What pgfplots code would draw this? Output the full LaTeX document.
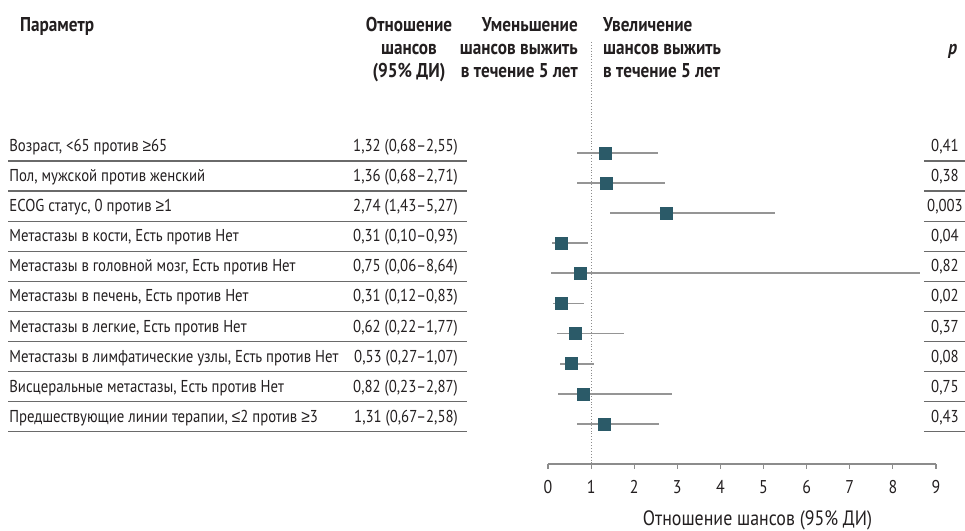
\documentclass[border=0pt]{standalone}
\usepackage{fontspec}
\setmainfont[FakeStretch=0.86]{PT Sans}
\newfontfamily\symf[FakeStretch=0.9]{Liberation Sans}
\newcommand{\GE}{{\symf ≥}}
\newcommand{\LE}{{\symf ≤}}
\usepackage{pgfplots}
\pgfplotsset{compat=1.18}
\usepackage{pgfplotstable}
\definecolor{mk}{HTML}{2B5A68}
\definecolor{ci}{HTML}{959595}
\definecolor{txt}{HTML}{231F20}
\definecolor{rl}{HTML}{6A6A6A}
\definecolor{ax}{HTML}{8C8C8C}

\pgfplotstableread{
row or lo hi
1 1.32 0.68 2.55
2 1.36 0.68 2.71
3 2.74 1.43 5.27
4 0.31 0.10 0.93
5 0.75 0.06 8.64
6 0.31 0.12 0.83
7 0.62 0.22 1.77
8 0.53 0.27 1.07
9 0.82 0.23 2.87
10 1.31 0.67 2.58
}\datatab

\newcommand{\bodyfont}{\fontsize{17.2}{20}\selectfont}
\newcommand{\headfont}{\fontsize{20}{24}\selectfont\bfseries}
\newcommand{\tabrow}[4]{%
  \node[anchor=base west, inner sep=0pt, text=txt, font=\bodyfont, yshift=1.5pt] at (axis cs:-12.50,-#1) {#2};
  \node[anchor=base east, inner sep=0pt, text=txt, font=\bodyfont, yshift=1.5pt] at (axis cs:-2.088,-#1) {#3};
  \node[anchor=base, inner sep=0pt, text=txt, font=\bodyfont, yshift=1.5pt] at (axis cs:9.209,-#1) {#4};
  \draw[rl, line width=1.2pt] ([yshift=-8pt]axis cs:-12.52,-#1) -- ([yshift=-8pt]axis cs:-1.879,-#1);
  \draw[rl, line width=1.2pt] ([yshift=-8pt]axis cs:8.722,-#1) -- ([yshift=-8pt]axis cs:9.673,-#1);
}

\begin{document}
\begin{tikzpicture}
\begin{axis}[
  scale only axis,
  width=388pt, height=422pt,
  xmin=0, xmax=9, ymin=-11.332, ymax=2.688,
  axis y line=none,
  axis x line*=bottom,
  axis line style={ax, line width=1.2pt},
  xtick={0,1,2,3,4,5,6,7,8,9},
  tick style={ax, line width=1.2pt},
  tick align=outside,
  major tick length=5pt,
  /pgf/number format/assume math mode=true,
  xticklabel style={font=\fontsize{18.5}{20}\selectfont, text=txt, yshift=-8pt},
  clip=false,
]
\draw[ax, dotted, line width=0.9pt] (axis cs:1,2.688) -- (axis cs:1,-11.332);

\addplot[only marks, mark=square*, mark size=6pt,
  mark options={fill=mk, draw=mk},
  error bars/.cd, x dir=both, x explicit,
  error mark=none,
  error bar style={ci, line width=1.8pt}]
  table[x=or, y expr=-\thisrow{row},
        x error minus expr=\thisrow{or}-\thisrow{lo},
        x error plus expr=\thisrow{hi}-\thisrow{or}] {\datatab};

\tabrow{1}{Возраст, <65 против \GE65}{1,32 (0,68–2,55)}{0,41}
\tabrow{2}{Пол, мужской против женский}{1,36 (0,68–2,71)}{0,38}
\tabrow{3}{ECOG статус, 0 против \GE1}{2,74 (1,43–5,27)}{0,003}
\tabrow{4}{Метастазы в кости, Есть против Нет}{0,31 (0,10–0,93)}{0,04}
\tabrow{5}{Метастазы в головной мозг, Есть против Нет}{0,75 (0,06–8,64)}{0,82}
\tabrow{6}{Метастазы в печень, Есть против Нет}{0,31 (0,12–0,83)}{0,02}
\tabrow{7}{Метастазы в легкие, Есть против Нет}{0,62 (0,22–1,77)}{0,37}
\tabrow{8}{Метастазы в лимфатические узлы, Есть против Нет}{0,53 (0,27–1,07)}{0,08}
\tabrow{9}{Висцеральные метастазы, Есть против Нет}{0,82 (0,23–2,87)}{0,75}
\tabrow{10}{Предшествующие линии терапии, \LE2 против \GE3}{1,31 (0,67–2,58)}{0,43}

% headers
\node[anchor=base west, inner sep=0pt, text=txt, font=\headfont] at (axis cs:-12.25,3.05) {Параметр};
\node[anchor=base, inner sep=0pt, text=txt, font=\headfont] at (axis cs:-3.224,3.037) {Отношение};
\node[anchor=base, inner sep=0pt, text=txt, font=\headfont] at (axis cs:-3.224,2.272) {шансов};
\node[anchor=base, inner sep=0pt, text=txt, font=\headfont] at (axis cs:-3.224,1.508) {(95\% ДИ)};
\node[anchor=base east, inner sep=0pt, text=txt, font=\headfont] at (axis cs:0.696,3.05) {Уменьшение};
\node[anchor=base east, inner sep=0pt, text=txt, font=\headfont] at (axis cs:0.696,2.272) {шансов выжить};
\node[anchor=base east, inner sep=0pt, text=txt, font=\headfont] at (axis cs:0.696,1.508) {в течение 5 лет};
\node[anchor=base west, inner sep=0pt, text=txt, font=\headfont] at (axis cs:1.276,3.05) {Увеличение};
\node[anchor=base west, inner sep=0pt, text=txt, font=\headfont] at (axis cs:1.276,2.272) {шансов выжить};
\node[anchor=base west, inner sep=0pt, text=txt, font=\headfont] at (axis cs:1.276,1.508) {в течение 5 лет};
\node[anchor=base, inner sep=0pt, text=txt, font=\headfont\itshape] at (axis cs:9.39,2.256) {p};

\node[anchor=center, inner sep=0pt, text=txt, font=\fontsize{20.8}{24}\selectfont] at (axis cs:4.86,-13.19) {Отношение шансов (95\% ДИ)};

\coordinate (BL) at (axis cs:-12.712,-13.558);
\coordinate (TR) at (axis cs:9.673,4.083);
\end{axis}
\pgfresetboundingbox
\path[use as bounding box] (BL) rectangle (TR);
\end{tikzpicture}
\end{document}
